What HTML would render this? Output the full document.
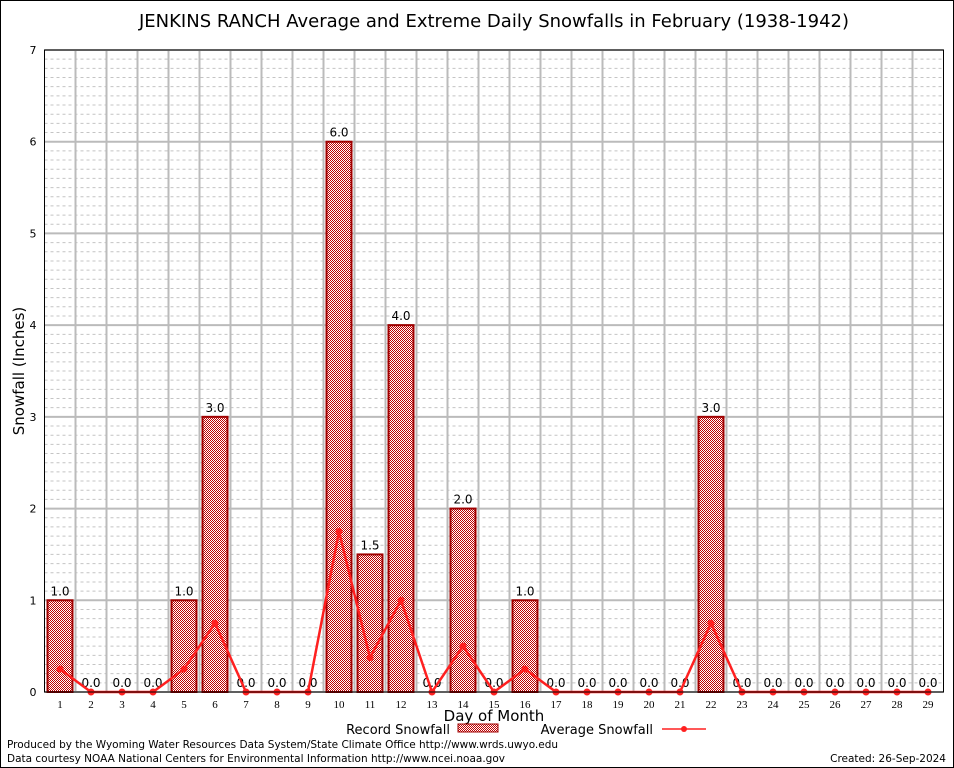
<!DOCTYPE html>
<html><head><meta charset="utf-8"><style>
body{margin:0;background:#fff;}
svg{display:block;font-family:"DejaVu Sans","Liberation Sans",sans-serif;}
</style></head><body>
<svg id="chart" width="954" height="768" xmlns="http://www.w3.org/2000/svg">
<defs>
<pattern id="chk" width="2" height="2" patternUnits="userSpaceOnUse">
<rect width="2" height="2" fill="#fff"/><rect width="1" height="1" fill="#c00000"/><rect x="1" y="1" width="1" height="1" fill="#c00000"/>
</pattern>
</defs>
<rect x="0.5" y="0.5" width="953" height="767" fill="#fff" stroke="#000"/>
<text x="494" y="27" font-size="18" text-anchor="middle">JENKINS RANCH Average and Extreme Daily Snowfalls in February (1938-1942)</text>
<g id="grid"></g>
<g id="bars"></g>
<g id="line"></g>
<g id="axes"></g>
<text x="24" y="371" font-size="15" text-anchor="middle" transform="rotate(-90 24 371)">Snowfall (Inches)</text>
<text x="494" y="721" font-size="15" text-anchor="middle">Day of Month</text>
<g>
<text x="450" y="734" font-size="13" text-anchor="end">Record Snowfall</text>
<rect x="458" y="724" width="40" height="8" fill="url(#chk)" stroke="#a00000"/>
<text x="653" y="734" font-size="13" text-anchor="end">Average Snowfall</text>
<line x1="662" y1="729" x2="706" y2="729" stroke="#ff2020" stroke-width="1.5"/>
<circle cx="684" cy="729" r="3" fill="#ff2020"/>
</g>
<text x="7" y="748" font-size="10.5" textLength="551">Produced by the Wyoming Water Resources Data System/State Climate Office http://www.wrds.uwyo.edu</text>
<text x="7" y="762" font-size="10.5" textLength="498">Data courtesy NOAA National Centers for Environmental Information http://www.ncei.noaa.gov</text>
<text x="946" y="762" font-size="10.5" text-anchor="end">Created:  26-Sep-2024</text>
</svg>
<script>
const days=[1,2,3,4,5,6,7,8,9,10,11,12,13,14,15,16,17,18,19,20,21,22,23,24,25,26,27,28,29];
const recordVals=[1,0,0,0,1,3,0,0,0,6,1.5,4,0,2,0,1,0,0,0,0,0,3,0,0,0,0,0,0,0];
const avgVals=[0.25,0,0,0,0.25,0.75,0,0,0,1.75,0.375,1,0,0.5,0,0.25,0,0,0,0,0,0.75,0,0,0,0,0,0,0];
const yTicks=[0,1,2,3,4,5,6,7];
const NS="http://www.w3.org/2000/svg";
const L=44.5,R=943.5,T=50,B=692,YMAX=7;
function x(d){return L+(d-0.5)*(R-L)/days.length;}
function y(v){return B-v*(B-T)/YMAX;}
function mk(tag,attrs,parent,text){const e=document.createElementNS(NS,tag);for(const k in attrs)e.setAttribute(k,attrs[k]);if(text!==undefined)e.textContent=text;parent.appendChild(e);return e;}
const grid=document.getElementById('grid'),bars=document.getElementById('bars'),line=document.getElementById('line'),axes=document.getElementById('axes');
for(let i=0;i<YMAX*10;i++){if(i%10===0)continue;const e=mk('line',{x1:L,x2:R,y1:y(i/10),y2:y(i/10),stroke:'#c4c4c4','stroke-dasharray':'3,3','stroke-width':1},grid);

}
yTicks.forEach(t=>{const e=mk('line',{x1:L,x2:R,y1:y(t),y2:y(t),stroke:'#bbb','stroke-width':2},grid);


const lb=mk('text',{x:L-8,y:y(t)+4,'font-size':11,'text-anchor':'end'},axes,String(t));

});
for(let i=1;i<days.length;i++){const xv=L+i*(R-L)/days.length;const e=mk('line',{x1:xv,x2:xv,y1:T,y2:B,stroke:'#bbb','stroke-width':2},grid);

}
days.forEach((d,i)=>{const v=recordVals[i];const cx=x(d);
if(v>0){const b=mk('rect',{x:cx-12.5,y:y(v),width:25,height:B-y(v),fill:'url(#chk)',stroke:'#a00000','stroke-width':2},bars);

}
const t=mk('text',{x:cx,y:y(v)-5,'font-size':12,'text-anchor':'middle'},bars,v.toFixed(1));


const xl=mk('text',{x:cx,y:B+16,'font-size':11,'text-anchor':'middle','font-family':'Liberation Serif, serif'},axes,String(d));

});
const pts=days.map((d,i)=>x(d)+','+y(avgVals[i])).join(' ');
const pl=mk('polyline',{points:pts,fill:'none',stroke:'#ff2020','stroke-width':2.5},line);


days.forEach((d,i)=>{const c=mk('circle',{cx:x(d),cy:y(avgVals[i]),r:3.5,fill:'#ff2020'},line);

});
const fr=mk('rect',{x:L,y:T,width:R-L,height:B-T,fill:'none',stroke:'#000','stroke-width':1},axes);


</script>
</body></html>
